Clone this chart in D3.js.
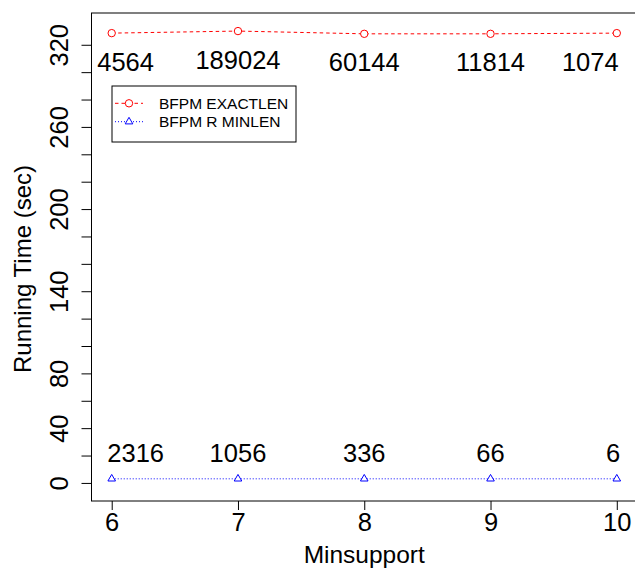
<!DOCTYPE html>
<html>
<head>
<meta charset="utf-8">
<script src="https://cdn.jsdelivr.net/npm/d3@7"></script>
<style>
  body { margin: 0; background: #fff; }
  text { font-family: Arial, "Liberation Sans", Helvetica, sans-serif; fill: #000; }
</style>
</head>
<body>
<svg id="chart" width="635" height="577"></svg>
<script>
// Running time per minimum support, with the number of patterns found at each point.
const minsupport = [6, 7, 8, 9, 10];
const exactlenTime = [328.5, 330, 328, 328, 328.5];
const minlenTime = [3, 3, 3, 3, 3];
const exactlenCounts = ["4564", "189024", "60144", "11814", "1074"];
const minlenCounts = ["2316", "1056", "336", "66", "6"];
// Count labels sit over their points, nudged inward at the two ends.
const exactlenLabelX = [6.11, 7, 8, 9, 9.79];
const minlenLabelX = [6.19, 7, 8, 9, 9.97];
const yTicks = d3.range(0, 321, 20);
const yLabelled = [0, 40, 80, 140, 200, 260, 320];
const seriesNames = ["BFPM EXACTLEN", "BFPM R MINLEN"];

const svg = d3.select("#chart");

// Plot region: x over 6..10 and y over 0..330, each padded by 4%.
const box = { left: 91.5, right: 637, top: 13, bottom: 501 };
const xPad = (10 - 6) * 0.04, yPad = 330 * 0.04;
const x = d3.scaleLinear().domain([6 - xPad, 10 + xPad]).range([box.left, box.right]);
const y = d3.scaleLinear().domain([0 - yPad, 330 + yPad]).range([box.bottom, box.top]);

// Frame
svg.append("rect")
  .attr("x", box.left).attr("y", box.top)
  .attr("width", box.right - box.left).attr("height", box.bottom - box.top)
  .attr("fill", "none").attr("stroke", "#000").attr("stroke-width", 1);

// X axis
const gx = svg.append("g")
  .attr("transform", `translate(0,${box.bottom})`)
  .call(d3.axisBottom(x).tickValues(minsupport).tickSize(9).tickPadding(3).tickFormat(d3.format("d")));
gx.select(".domain").remove();
gx.selectAll("text").attr("font-size", 25.5).attr("font-family", null);

// Y axis, labels rotated to run along the axis
const gy = svg.append("g")
  .attr("transform", `translate(${box.left},0)`)
  .call(d3.axisLeft(y).tickValues(yTicks).tickSize(10)
    .tickFormat(d => yLabelled.includes(d) ? String(d) : ""));
gy.select(".domain").remove();
gy.selectAll("text")
  .attr("font-size", 25.5).attr("font-family", null)
  .attr("text-anchor", "middle")
  .attr("transform", "rotate(-90)")
  .attr("x", 0).attr("y", -23.2).attr("dy", null);

// Axis titles
svg.append("text")
  .attr("x", (box.left + box.right) / 2).attr("y", 563)
  .attr("text-anchor", "middle").attr("font-size", 24.5)
  .text("Minsupport");
svg.append("text")
  .attr("transform", `translate(31,269) rotate(-90)`)
  .attr("text-anchor", "middle").attr("font-size", 24)
  .text("Running Time (sec)");

// Series lines
const exact = minsupport.map((m, i) => [m, exactlenTime[i]]);
const minlen = minsupport.map((m, i) => [m, minlenTime[i]]);
const line = d3.line().x(d => x(d[0])).y(d => y(d[1]));

svg.append("path").datum(exact)
  .attr("d", line).attr("fill", "none")
  .attr("stroke", "#ff0000").attr("stroke-width", 1).attr("stroke-dasharray", "3.5,3");
svg.append("path").datum(minlen)
  .attr("d", line).attr("fill", "none")
  .attr("stroke", "#0000ff").attr("stroke-width", 1).attr("stroke-dasharray", "1,2");

// Markers
svg.selectAll("circle.exact").data(exact).join("circle")
  .attr("class", "exact")
  .attr("cx", d => x(d[0])).attr("cy", d => y(d[1])).attr("r", 3.7)
  .attr("fill", "#fff").attr("stroke", "#ff0000").attr("stroke-width", 1);

const tri = d3.symbol(d3.symbolTriangle, 25);
svg.selectAll("path.minlen").data(minlen).join("path")
  .attr("class", "minlen")
  .attr("d", tri)
  .attr("transform", d => `translate(${x(d[0])},${y(d[1])})`)
  .attr("fill", "#fff").attr("stroke", "#0000ff").attr("stroke-width", 1);

// Pattern counts
svg.selectAll("text.exactCount").data(exact).join("text")
  .attr("class", "exactCount")
  .attr("x", (d, i) => x(exactlenLabelX[i]))
  .attr("y", d => y(d[1]) + 37.5)
  .attr("text-anchor", "middle").attr("font-size", 25.5)
  .text((d, i) => exactlenCounts[i]);

svg.selectAll("text.minlenCount").data(minlen).join("text")
  .attr("class", "minlenCount")
  .attr("x", (d, i) => x(minlenLabelX[i]))
  .attr("y", d => y(d[1]) - 16.5)
  .attr("text-anchor", "middle").attr("font-size", 25.5)
  .text((d, i) => minlenCounts[i]);

// Legend
const lg = svg.append("g").attr("transform", "translate(112,86)");
lg.append("rect").attr("width", 184).attr("height", 56)
  .attr("fill", "#fff").attr("stroke", "#000").attr("stroke-width", 1);
const entries = [
  { name: seriesNames[0], color: "#ff0000", dash: "3.5,3", shape: "circle" },
  { name: seriesNames[1], color: "#0000ff", dash: "1,2", shape: "triangle" }
];
entries.forEach((e, i) => {
  const cy = 17.3 + i * 18.4;
  lg.append("line").attr("x1", 3).attr("x2", 31).attr("y1", cy).attr("y2", cy)
    .attr("stroke", e.color).attr("stroke-dasharray", e.dash);
  if (e.shape === "circle") {
    lg.append("circle").attr("cx", 17).attr("cy", cy).attr("r", 3.7)
      .attr("fill", "#fff").attr("stroke", e.color);
  } else {
    lg.append("path").attr("d", tri).attr("transform", `translate(17,${cy})`)
      .attr("fill", "#fff").attr("stroke", e.color);
  }
  lg.append("text").attr("x", 47).attr("y", cy + 5.4)
    .attr("font-size", 15.5).text(e.name);
});
</script>
</body>
</html>
